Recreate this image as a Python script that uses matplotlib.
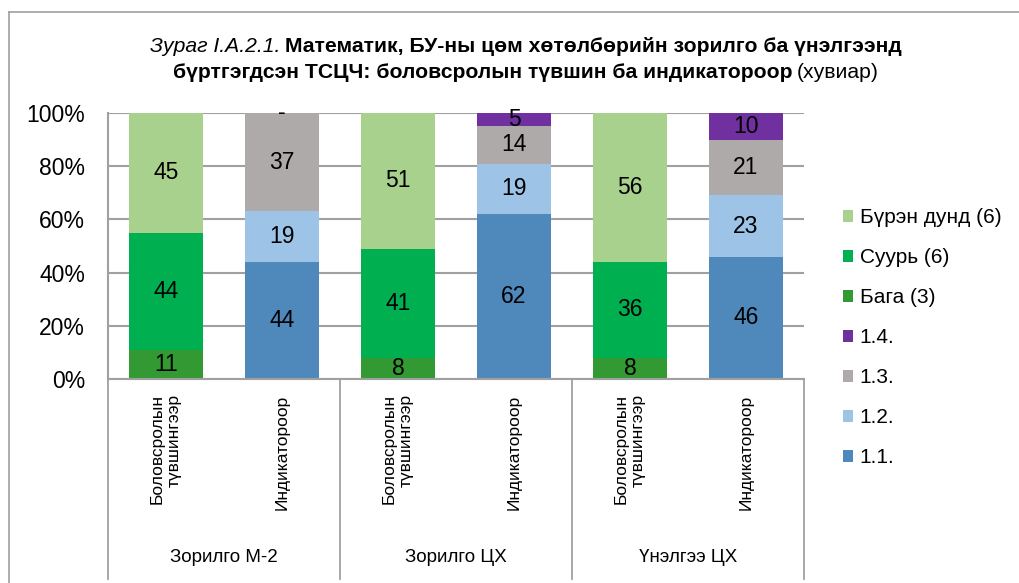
import numpy as np
import matplotlib
matplotlib.use("Agg")
import matplotlib.pyplot as plt
from matplotlib.lines import Line2D
from matplotlib.patches import Patch

plt.rcParams['font.family'] = ['Liberation Sans', 'DejaVu Sans']
NARROW = ['Liberation Sans Narrow', 'Liberation Sans', 'DejaVu Sans']

# data
groups = ['Зорилго М-2', 'Зорилго ЦХ', 'Үнэлгээ ЦХ']
bar_labels = ['Боловсролын\nтүвшингээр', 'Индикатороор'] * 3

# by education level (bars 0, 2, 4)
baga = [11, 8, 8]
suur = [44, 41, 36]
buren = [45, 51, 56]
# by indicator (bars 1, 3, 5)
ind_11 = [44, 62, 46]
ind_12 = [19, 19, 23]
ind_13 = [37, 14, 21]
ind_14 = [0, 5, 10]

level_series = [('Бага (3)', baga, '#339933'),
                ('Суурь (6)', suur, '#00B050'),
                ('Бүрэн дунд (6)', buren, '#A9D18E')]
ind_series = [('1.1.', ind_11, '#4F88BB'),
              ('1.2.', ind_12, '#9DC3E6'),
              ('1.3.', ind_13, '#AEAAAA'),
              ('1.4.', ind_14, '#7030A0')]

W, H = 1019, 583
fig = plt.figure(figsize=(W / 100, H / 100), dpi=100)
ax = fig.add_axes([108 / W, 1 - 379 / H, 696 / W, 266 / H])

x = np.arange(len(bar_labels))
xl = x[0::2]
xi = x[1::2]
bw = 0.645

def stack(xs, series):
    bottom = np.zeros(len(xs))
    for name, vals, col in series:
        vals = np.array(vals, dtype=float)
        ax.bar(xs, vals, bw, bottom=bottom, color=col, zorder=2, label=name)
        for xx, b, v in zip(xs, bottom, vals):
            txt = '-' if v == 0 else f'{v:.0f}'
            ax.text(xx, b + v / 2, txt, ha='center', va='center',
                    fontsize=16.5, color='black', zorder=3)
        bottom += vals

stack(xl, level_series)
stack(xi, ind_series)

ax.set_xlim(-0.5, 5.5)
ax.set_ylim(0, 100)
ax.set_yticks([0, 20, 40, 60, 80, 100])
ax.set_yticklabels([f'{v}%' for v in range(0, 101, 20)], fontsize=16.5)
ax.yaxis.grid(True, color='#A0A0A0', linewidth=1.5, zorder=0)
ax.set_axisbelow(True)
ax.tick_params(axis='y', length=0, pad=16.5)
ax.tick_params(axis='x', length=0, pad=11)
ax.set_xticks(x)
ax.set_xticklabels(bar_labels, rotation=90, fontsize=12.5, va='top',
                   ha='center', multialignment='right', linespacing=1.2)
for s in ['top', 'right']:
    ax.spines[s].set_visible(False)
for s in ['left', 'bottom']:
    ax.spines[s].set_color('#A0A0A0')
    ax.spines[s].set_linewidth(1.5)

# group separators and labels below the axis
tr = ax.get_xaxis_transform()
for b in [-0.5, 1.5, 3.5, 5.5]:
    ax.plot([b, b], [0, -0.75], color='#A0A0A0', lw=1.3, transform=tr,
            clip_on=False)
for i, g in enumerate(groups):
    ax.text(2 * i + 0.5, -0.67, g, transform=tr, ha='center', va='center',
            fontsize=13.5, family=NARROW)

# legend
order = ['Бүрэн дунд (6)', 'Суурь (6)', 'Бага (3)', '1.4.', '1.3.', '1.2.', '1.1.']
cols = dict((n, c) for n, _, c in level_series + ind_series)
handles = [Patch(facecolor=cols[n], edgecolor='none') for n in order]
fig.legend(handles, order, loc='upper left', bbox_to_anchor=(843 / W, 1 - 208 / H),
           frameon=False, fontsize=15, handlelength=0.5, handleheight=0.5,
           handletextpad=0.3, labelspacing=1.01, borderaxespad=0, borderpad=0)

# chart border
fig.add_artist(Line2D([8.5 / W, 8.5 / W], [0, 1 - 11.5 / H], color='#A0A0A0', lw=1.2))
fig.add_artist(Line2D([8.5 / W, 1], [1 - 11.5 / H, 1 - 11.5 / H], color='#A0A0A0', lw=1.2))

# title with mixed styles
renderer = fig.canvas.get_renderer()

def rich_line(y, parts, size=15.2, cx=526):
    texts = []
    for s, st, wt in parts:
        t = fig.text(0, y, s, fontsize=size, style=st, weight=wt,
                     family=NARROW, va='baseline', ha='left')
        texts.append(t)
    gap = size * 0.3
    widths = [t.get_window_extent(renderer).width for t in texts]
    total = sum(widths) + gap * (len(texts) - 1)
    x0 = cx - total / 2
    for t, w in zip(texts, widths):
        t.set_x(x0 / W)
        x0 += w + gap

rich_line(1 - 52 / H, [('Зураг I.A.2.1.', 'italic', 'normal'),
                       ('Математик, БУ-ны цөм хөтөлбөрийн зорилго ба үнэлгээнд', 'normal', 'bold')])
rich_line(1 - 78 / H, [('бүртгэгдсэн ТСЦЧ: боловсролын түвшин ба индикатороор', 'normal', 'bold'),
                       ('(хувиар)', 'normal', 'normal')])

fig.savefig('out.png', dpi=100)
